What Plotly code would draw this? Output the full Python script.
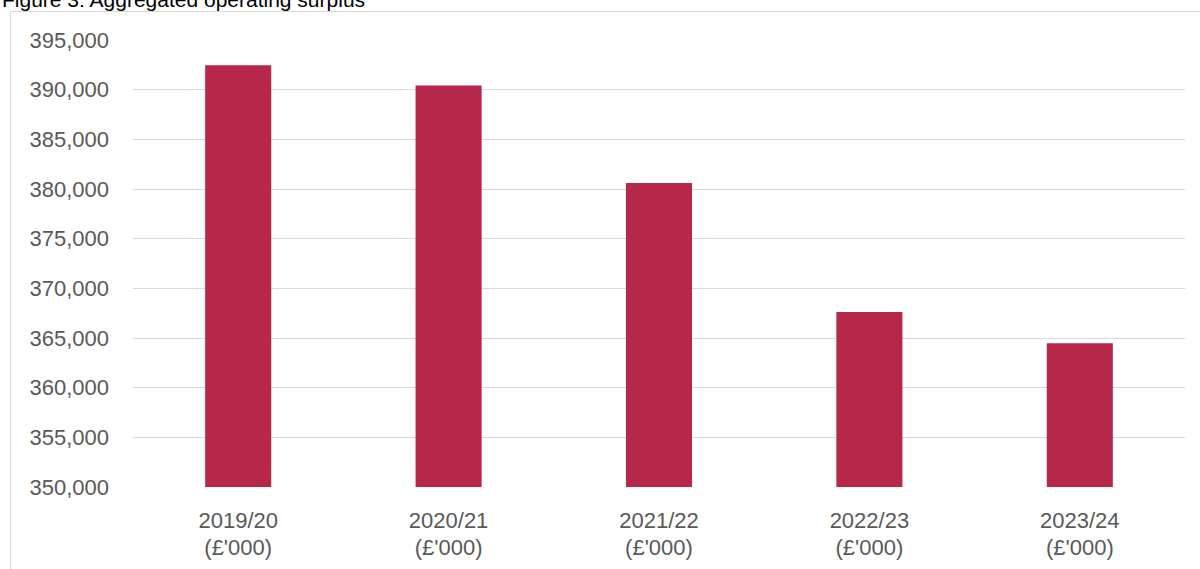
import plotly.graph_objects as go

categories = ["2019/20", "2020/21", "2021/22", "2022/23", "2023/24"]
unit_labels = ["(£'000)"] * 5
values = [392450, 390420, 380600, 367620, 364470]
y_ticks = list(range(350000, 395001, 5000))

W, H = 1200, 569
ML, MR, MT, MB = 133, 15, 40, 82
pw = W - ML - MR
ph = H - MT - MB

def px_x(p):
    return (p - ML) / pw

def px_y(p):
    return (H - MB - p) / ph

FONT = "Liberation Sans, Arial, sans-serif"
GREY = "#595959"
FS = 22

fig = go.Figure()
fig.add_trace(go.Bar(
    x=categories, y=values,
    marker=dict(color="#b7274a", line=dict(width=0)),
    hoverinfo="x+y",
))
fig.add_trace(go.Scatter(
    x=categories, y=values, xaxis="x2", mode="markers",
    marker=dict(opacity=0), hoverinfo="skip", showlegend=False,
))

fig.update_layout(
    width=W, height=H,
    margin=dict(l=ML, r=MR, t=MT, b=MB, autoexpand=False),
    paper_bgcolor="white", plot_bgcolor="white",
    showlegend=False,
    bargap=0.686,
    font=dict(family=FONT, size=FS, color=GREY),
    xaxis=dict(
        type="category", categoryorder="array", categoryarray=categories,
        showgrid=False, showline=False, zeroline=False, ticks="",
        tickfont=dict(family=FONT, size=FS, color=GREY),
        ticklabelstandoff=18, automargin=False,
    ),
    xaxis2=dict(
        type="category", categoryorder="array", categoryarray=categories,
        overlaying="x", matches="x", anchor="y", side="bottom",
        tickmode="array", tickvals=categories, ticktext=unit_labels,
        showgrid=False, showline=False, zeroline=False, ticks="",
        tickfont=dict(family=FONT, size=FS, color=GREY),
        ticklabelstandoff=45, automargin=False,
    ),
    yaxis=dict(
        range=[350000, 395000], tickmode="array", tickvals=y_ticks,
        tickformat=",", showgrid=True, gridcolor="#d9d9d9", gridwidth=1.3,
        zeroline=False, showline=False, ticks="",
        tickfont=dict(family=FONT, size=FS, color=GREY),
        ticklabelstandoff=23, automargin=False,
    ),
    shapes=[dict(
        type="rect", xref="paper", yref="paper",
        x0=px_x(10.5), x1=px_x(1250), y0=px_y(620), y1=px_y(11.5),
        line=dict(color="#d9d9d9", width=1), fillcolor="rgba(0,0,0,0)",
        layer="below",
    )],
    annotations=[dict(
        text="Figure 3: Aggregated operating surplus",
        xref="paper", yref="paper", x=px_x(0), y=px_y(0),
        xanchor="left", yanchor="middle", showarrow=False,
        font=dict(family=FONT, size=21, color="black"),
    )],
)

fig.write_html("out.html")
